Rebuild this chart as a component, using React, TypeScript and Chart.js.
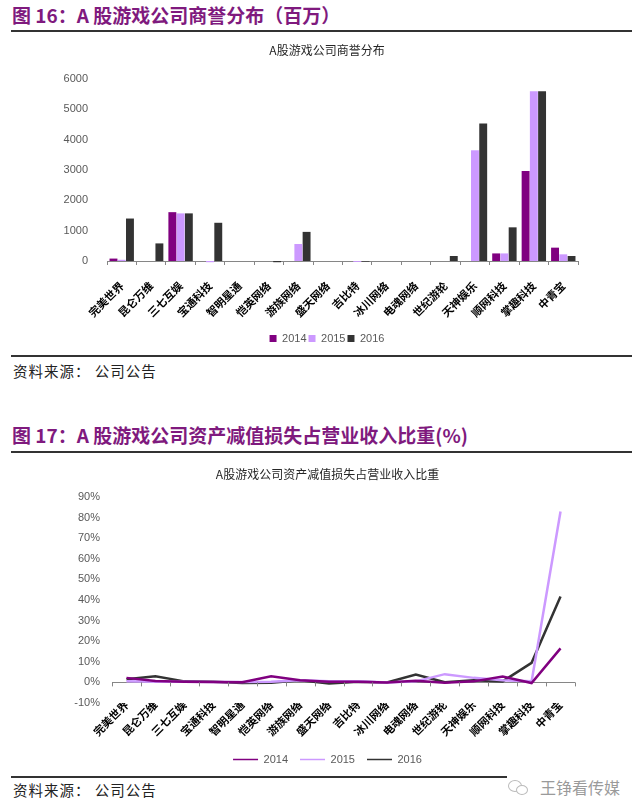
import React, { useEffect, useRef } from "react";
import { Chart, registerables } from "chart.js";

Chart.register(...registerables);

const categories = [
  "完美世界", "昆仑万维", "三七互娱", "宝通科技", "智明星通", "恺英网络", "游族网络", "盛天网络",
  "吉比特", "冰川网络", "电魂网络", "世纪游轮", "天神娱乐", "顺网科技", "掌趣科技", "中青宝",
];
const seriesNames = ["2014", "2015", "2016"];

// 商誉（百万）
const goodwill2014 = [80, 0, 1610, 0, 0, 0, 0, 0, 0, 0, 0, 0, 0, 250, 2970, 440];
const goodwill2015 = [40, 0, 1570, -40, 0, 0, 560, 0, -30, 0, 0, 0, 3650, 250, 5600, 220];
const goodwill2016 = [1400, 580, 1570, 1260, 0, -40, 960, 0, -20, 0, 0, 165, 4530, 1110, 5600, 165];
const goodwillTicks = [0, 1000, 2000, 3000, 4000, 5000, 6000];

// 资产减值损失占营业收入比重（%）
const ratio2014 = [2.2, 0.7, 0.3, 0.2, 0.1, 3.0, 1.0, 0.3, 0.3, 0, 0.8, -0.2, 0.5, 2.8, -0.3, 16.5];
const ratio2015 = [0.6, 0.3, 0.3, 0.2, 0.2, 0.3, 1.0, 0.5, 0.5, 0, 0.5, 4.0, 2.2, 1.0, 0.5, 83];
const ratio2016 = [1.5, 3.0, 0.5, 0.3, -0.3, -0.2, 1.0, -0.5, 0.3, 0, 3.8, 0.1, 1.0, 0.5, 9.5, 41.7];
const ratioTicks = [-10, 0, 10, 20, 30, 40, 50, 60, 70, 80, 90];

const COLORS = ["#800080", "#CC99FF", "#333333"];
const FONT = '"Liberation Sans", Arial, "Noto Sans CJK SC", sans-serif';
const CJK = '"Noto Sans CJK SC", "Liberation Sans", sans-serif';

Chart.defaults.font.family = FONT;

// y-axis labels are allowed to extend left of the (narrow) axis box
const noLabelClip = (s: any) => {
  s._computeLabelArea = () => undefined;
};

function GoodwillChart() {
  const ref = useRef<HTMLCanvasElement>(null);
  useEffect(() => {
    const values = [goodwill2014, goodwill2015, goodwill2016];
    const chart = new Chart(ref.current as HTMLCanvasElement, {
      type: "bar",
      data: {
        labels: categories,
        datasets: seriesNames.map((name, i) => ({
          label: name,
          data: values[i],
          backgroundColor: COLORS[i],
          borderWidth: 0,
          categoryPercentage: 0.84,
          barPercentage: 0.96,
          clip: false as any,
        })),
      },
      options: {
        animation: false,
        responsive: false,
        maintainAspectRatio: false,
        layout: { padding: { left: 76, right: 62, top: 0, bottom: 0 } },
        plugins: {
          title: {
            display: true,
            text: "A股游戏公司商誉分布",
            color: "#262626",
            font: { size: 12, weight: "normal", family: CJK },
            padding: { top: 5, bottom: 21.6 },
          },
          legend: {
            position: "bottom",
            labels: { boxWidth: 7, boxHeight: 7, padding: 2, color: "#595959", font: { size: 11 } },
          },
          tooltip: { enabled: false },
        },
        scales: {
          x: {
            grid: { offset: true, drawOnChartArea: false, drawTicks: true, tickLength: 4, color: "#868686" },
            border: { display: true, color: "#868686" },
            ticks: {
              autoSkip: false,
              maxRotation: 45,
              minRotation: 45,
              color: "#000",
              font: { size: 11, weight: "bold", family: CJK },
              padding: 14,
            },
            afterFit: (s: any) => { s.height = 70; },
          },
          y: {
            min: 0,
            max: 6000,
            afterBuildTicks: (s: any) => { s.ticks = goodwillTicks.map((v) => ({ value: v })); },
            ticks: { color: "#595959", font: { size: 11 }, padding: 11, callback: (v: any) => String(v) },
            grid: { display: false },
            border: { display: false },
            afterFit: (s: any) => { s.width = 31; noLabelClip(s); },
          },
        },
      },
    });
    return () => chart.destroy();
  }, []);
  return (
    <canvas
      ref={ref}
      width={640}
      height={316}
      style={{ position: "absolute", left: 0, top: 38, width: 640, height: 316 }}
    />
  );
}

const zeroTicksPlugin = {
  id: "zeroTicks",
  afterDatasetsDraw(chart: any) {
    const xs = chart.scales.x;
    const ys = chart.scales.y;
    const ctx = chart.ctx;
    const y0 = ys.getPixelForValue(0);
    const n = chart.data.labels.length;
    const step = (xs.right - xs.left) / n;
    ctx.save();
    ctx.strokeStyle = "#868686";
    ctx.lineWidth = 1;
    for (let i = 0; i <= n; i++) {
      const x = Math.round(xs.left + i * step) + 0.5;
      ctx.beginPath();
      ctx.moveTo(x, y0);
      ctx.lineTo(x, y0 + 4);
      ctx.stroke();
    }
    ctx.restore();
  },
};

function RatioChart() {
  const ref = useRef<HTMLCanvasElement>(null);
  useEffect(() => {
    const values = [ratio2014, ratio2015, ratio2016];
    const chart = new Chart(ref.current as HTMLCanvasElement, {
      type: "line",
      data: {
        labels: categories,
        datasets: seriesNames.map((name, i) => ({
          label: name,
          data: values[i],
          borderColor: COLORS[i],
          backgroundColor: COLORS[i],
          borderWidth: 2.5,
          pointRadius: 0,
          tension: 0,
          fill: false,
        })),
      },
      plugins: [zeroTicksPlugin],
      options: {
        animation: false,
        responsive: false,
        maintainAspectRatio: false,
        layout: { padding: { left: 80, right: 65, top: 0, bottom: 1 } },
        plugins: {
          title: {
            display: true,
            text: "A股游戏公司资产减值损失占营业收入比重",
            color: "#262626",
            font: { size: 12, weight: "normal", family: CJK },
            padding: { top: 8.8, bottom: 15.8 },
          },
          legend: {
            position: "bottom",
            labels: {
              boxWidth: 25,
              boxHeight: 1.5,
              padding: 12,
              color: "#595959",
              font: { size: 11 },
              generateLabels: (c: any) =>
                Chart.defaults.plugins.legend.labels.generateLabels(c).map((it: any) => ({ ...it, lineWidth: 0 })),
            },
          },
          tooltip: { enabled: false },
        },
        scales: {
          x: {
            offset: true,
            grid: { display: false },
            border: { display: false },
            ticks: {
              autoSkip: false,
              maxRotation: 45,
              minRotation: 45,
              color: "#000",
              font: { size: 11, weight: "bold", family: CJK },
              padding: -13,
            },
            afterFit: (s: any) => { s.height = 39; },
          },
          y: {
            min: -10,
            max: 90,
            afterBuildTicks: (s: any) => { s.ticks = ratioTicks.map((v) => ({ value: v })); },
            ticks: { color: "#595959", font: { size: 11 }, padding: 12, callback: (v: any) => v + "%" },
            grid: {
              drawTicks: false,
              color: (c: any) => (c.tick && c.tick.value === 0 ? "#868686" : "rgba(0,0,0,0)"),
            },
            border: { display: false },
            afterFit: (s: any) => { s.width = 32; noLabelClip(s); },
          },
        },
      },
    });
    return () => chart.destroy();
  }, []);
  return (
    <canvas
      ref={ref}
      width={640}
      height={318}
      style={{ position: "absolute", left: 0, top: 458, width: 640, height: 318 }}
    />
  );
}

const headerStyle: React.CSSProperties = {
  position: "absolute",
  left: 12,
  fontFamily: CJK,
  fontWeight: 700,
  fontSize: 19,
  lineHeight: "22px",
  color: "#7F1A7E",
  whiteSpace: "nowrap",
};
const ruleStyle: React.CSSProperties = {
  position: "absolute",
  left: 11,
  width: 621,
  height: 2,
  background: "#333",
};
const sourceStyle: React.CSSProperties = {
  position: "absolute",
  left: 13,
  fontFamily: CJK,
  fontSize: 14.5,
  letterSpacing: 1,
  lineHeight: "18px",
  color: "#222",
  whiteSpace: "nowrap",
};

export default function App() {
  return (
    <div style={{ position: "absolute", left: 0, top: 0, width: 640, height: 812, background: "#fff", overflow: "hidden" }}>
      <div style={{ ...headerStyle, top: 4 }}>图&nbsp;16：A 股游戏公司商誉分布（百万）</div>
      <div style={{ ...ruleStyle, top: 30 }} />
      <GoodwillChart />
      <div style={{ ...ruleStyle, top: 355 }} />
      <div style={{ ...sourceStyle, top: 362 }}>资料来源：&nbsp;公司公告</div>

      <div style={{ ...headerStyle, top: 424 }}>图&nbsp;17：A 股游戏公司资产减值损失占营业收入比重(%)</div>
      <div style={{ ...ruleStyle, top: 451 }} />
      <RatioChart />
      <div style={{ ...ruleStyle, top: 776 }} />
      <div style={{ ...sourceStyle, top: 781 }}>资料来源：&nbsp;公司公告</div>
      <div
        style={{
          position: "absolute",
          left: 507,
          top: 774,
          width: 125,
          height: 26,
          background: "#fff",
        }}
      />
      <div
        style={{
          position: "absolute",
          left: 508,
          top: 780,
          width: 12,
          height: 10,
          border: "1px solid #bbb",
          borderRadius: "50%",
        }}
      />
      <div
        style={{
          position: "absolute",
          left: 516,
          top: 785,
          width: 10,
          height: 8,
          border: "1px solid #bbb",
          borderRadius: "50%",
          background: "#fff",
        }}
      />
      <div
        style={{
          position: "absolute",
          left: 540,
          top: 776,
          fontFamily: CJK,
          fontSize: 16,
          lineHeight: "22px",
          color: "#9a9a9a",
          whiteSpace: "nowrap",
        }}
      >
        王铮看传媒
      </div>
    </div>
  );
}
